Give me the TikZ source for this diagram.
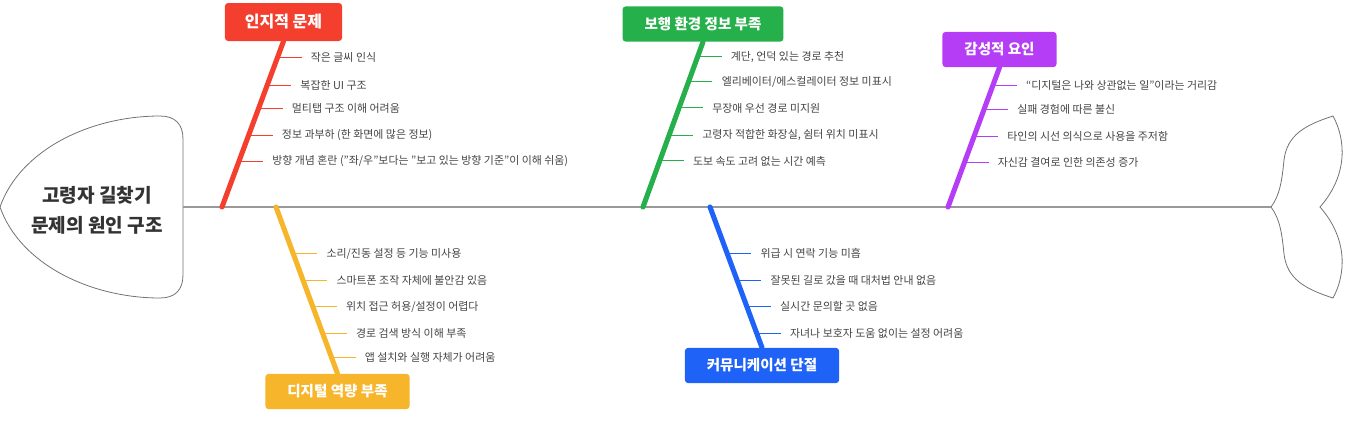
\documentclass[tikz,border=0pt]{standalone}
\usepackage{fontspec}
\setmainfont{Noto Sans CJK KR}
\usetikzlibrary{calc,positioning}
\definecolor{bred}{HTML}{F43F2F}
\definecolor{bgreen}{HTML}{26B04B}
\definecolor{bpurple}{HTML}{B43DF5}
\definecolor{byellow}{HTML}{F6B52A}
\definecolor{bblue}{HTML}{1E62F7}
\definecolor{inktext}{HTML}{444444}
\tikzset{
  outline/.style={draw=black!55, line width=0.6pt, fill=white},
  spine/.style={draw=black!40, line width=1.5pt},
  bone/.style={line width=3.8pt, line cap=round},
  twig/.style={line width=0.75pt},
  cause/.style={rounded corners=2.5pt, text=white, inner xsep=16.5pt, minimum height=26.5pt,
    font=\bfseries\fontsize{10.9}{12}\selectfont},
  lbl/.style={inner sep=0pt, text=inktext, font=\fontsize{8.2}{9}\selectfont},
}
\begin{document}
\begin{tikzpicture}[x=0.75pt,y=-0.75pt]
    \useasboundingbox (0,0) rectangle (1363,422);
    % head and tail
    \draw[outline] (0,207) .. controls (20,150) and (90,116) .. (160,116)
        .. controls (175,116) and (183,124) .. (183,139) -- (183,275)
        .. controls (183,290) and (175,298) .. (160,298)
        .. controls (90,298) and (20,264) .. (0,207) -- cycle;
    \draw[outline] (1271,207) .. controls (1280,195) and (1282,180) .. (1284,160)
        .. controls (1287,135) and (1305,125) .. (1333,116)
        .. controls (1346,140) and (1348,175) .. (1320,207)
        .. controls (1348,239) and (1346,274) .. (1333,298)
        .. controls (1305,289) and (1287,279) .. (1284,254)
        .. controls (1282,234) and (1280,219) .. (1271,207) -- cycle;
    \node[text=black!80, font=\bfseries\fontsize{14.3}{22.5}\selectfont, align=center] (head) at (97,210)
        {고령자 길찾기\\문제의 원인 구조};
    \coordinate (hd) at (183,207);
    \coordinate (tl) at (1271,207);
    \draw[spine] (hd) -- (tl);
    % cause boxes
    \node[cause, fill=bred, minimum height=28.5pt, inner xsep=15pt, font=\bfseries\fontsize{12}{14}\selectfont] (rbox) at (283.5,22) {인지적 문제};
    \node[cause, fill=bgreen] (gbox) at (703,24) {보행 환경 정보 부족};
    \node[cause, fill=bpurple] (pbox) at (999.5,49.5) {감성적 요인};
    \node[cause, fill=byellow] (ybox) at (337.5,391.5) {디지털 역량 부족};
    \node[cause, fill=bblue] (bbox) at (762,365.5) {커뮤니케이션 단절};
    \coordinate (r0) at (222,207);
    \coordinate (g0) at (643,207);
    \coordinate (p0) at (948,207);
    \coordinate (y0) at (276,207);
    \coordinate (b0) at (710,207);
    \draw[bone, bred] (rbox.south) -- (r0);
    \draw[bone, bgreen] (gbox.south) -- (g0);
    \draw[bone, bpurple] (pbox.south) -- (p0);
    \draw[bone, byellow] (y0) -- (ybox.north);
    \draw[bone, bblue] (b0) -- (bbox.north);
    % points on the bones
    \coordinate (r1) at ($(rbox.south)!0.096!(r0)$);
    \coordinate (r2) at ($(rbox.south)!0.265!(r0)$);
    \coordinate (r3) at ($(rbox.south)!0.404!(r0)$);
    \coordinate (r4) at ($(rbox.south)!0.566!(r0)$);
    \coordinate (r5) at ($(rbox.south)!0.723!(r0)$);
    \coordinate (g1) at ($(gbox.south)!0.091!(g0)$);
    \coordinate (g2) at ($(gbox.south)!0.242!(g0)$);
    \coordinate (g3) at ($(gbox.south)!0.400!(g0)$);
    \coordinate (g4) at ($(gbox.south)!0.564!(g0)$);
    \coordinate (g5) at ($(gbox.south)!0.721!(g0)$);
    \coordinate (p1) at ($(pbox.south)!0.129!(p0)$);
    \coordinate (p2) at ($(pbox.south)!0.300!(p0)$);
    \coordinate (p3) at ($(pbox.south)!0.493!(p0)$);
    \coordinate (p4) at ($(pbox.south)!0.679!(p0)$);
    \coordinate (y1) at ($(y0)!0.281!(ybox.north)$);
    \coordinate (y2) at ($(y0)!0.443!(ybox.north)$);
    \coordinate (y3) at ($(y0)!0.599!(ybox.north)$);
    \coordinate (y4) at ($(y0)!0.760!(ybox.north)$);
    \coordinate (y5) at ($(y0)!0.904!(ybox.north)$);
    \coordinate (b1) at ($(b0)!0.333!(bbox.north)$);
    \coordinate (b2) at ($(b0)!0.525!(bbox.north)$);
    \coordinate (b3) at ($(b0)!0.709!(bbox.north)$);
    \coordinate (b4) at ($(b0)!0.901!(bbox.north)$);
    % sub-causes
    \node[lbl, right=24.75pt of r1] (rt1) {작은 글씨 인식};
    \node[lbl, right=24.75pt of r2] (rt2) {복잡한 UI 구조};
    \node[lbl, right=24.75pt of r3] (rt3) {멀티탭 구조 이해 어려움};
    \node[lbl, right=24.75pt of r4] (rt4) {정보 과부하 (한 화면에 많은 정보)};
    \node[lbl, right=24.75pt of r5] (rt5) {방향 개념 혼란 ("좌/우"보다는 "보고 있는 방향 기준"이 이해 쉬움)};
    \node[lbl, right=24.75pt of g1] (gt1) {계단, 언덕 있는 경로 추천};
    \node[lbl, right=24.75pt of g2] (gt2) {엘리베이터/에스컬레이터 정보 미표시};
    \node[lbl, right=24.75pt of g3] (gt3) {무장애 우선 경로 미지원};
    \node[lbl, right=24.75pt of g4] (gt4) {고령자 적합한 화장실, 쉼터 위치 미표시};
    \node[lbl, right=24.75pt of g5] (gt5) {도보 속도 고려 없는 시간 예측};
    \node[lbl, right=24.75pt of p1] (pt1) {“디지털은 나와 상관없는 일”이라는 거리감};
    \node[lbl, right=24.75pt of p2] (pt2) {실패 경험에 따른 불신};
    \node[lbl, right=24.75pt of p3] (pt3) {타인의 시선 의식으로 사용을 주저함};
    \node[lbl, right=24.75pt of p4] (pt4) {자신감 결여로 인한 의존성 증가};
    \node[lbl, right=24.75pt of y1] (yt1) {소리/진동 설정 등 기능 미사용};
    \node[lbl, right=24.75pt of y2] (yt2) {스마트폰 조작 자체에 불안감 있음};
    \node[lbl, right=24.75pt of y3] (yt3) {위치 접근 허용/설정이 어렵다};
    \node[lbl, right=24.75pt of y4] (yt4) {경로 검색 방식 이해 부족};
    \node[lbl, right=24.75pt of y5] (yt5) {앱 설치와 실행 자체가 어려움};
    \node[lbl, right=24.75pt of b1] (bt1) {위급 시 연락 기능 미흡};
    \node[lbl, right=24.75pt of b2] (bt2) {잘못된 길로 갔을 때 대처법 안내 없음};
    \node[lbl, right=24.75pt of b3] (bt3) {실시간 문의할 곳 없음};
    \node[lbl, right=24.75pt of b4] (bt4) {자녀나 보호자 도움 없이는 설정 어려움};
    \draw[twig, bred] (r1) -- ([xshift=-6.75pt]rt1.west);
    \draw[twig, bred] (r2) -- ([xshift=-6.75pt]rt2.west);
    \draw[twig, bred] (r3) -- ([xshift=-6.75pt]rt3.west);
    \draw[twig, bred] (r4) -- ([xshift=-6.75pt]rt4.west);
    \draw[twig, bred] (r5) -- ([xshift=-6.75pt]rt5.west);
    \draw[twig, bgreen] (g1) -- ([xshift=-6.75pt]gt1.west);
    \draw[twig, bgreen] (g2) -- ([xshift=-6.75pt]gt2.west);
    \draw[twig, bgreen] (g3) -- ([xshift=-6.75pt]gt3.west);
    \draw[twig, bgreen] (g4) -- ([xshift=-6.75pt]gt4.west);
    \draw[twig, bgreen] (g5) -- ([xshift=-6.75pt]gt5.west);
    \draw[twig, bpurple] (p1) -- ([xshift=-6.75pt]pt1.west);
    \draw[twig, bpurple] (p2) -- ([xshift=-6.75pt]pt2.west);
    \draw[twig, bpurple] (p3) -- ([xshift=-6.75pt]pt3.west);
    \draw[twig, bpurple] (p4) -- ([xshift=-6.75pt]pt4.west);
    \draw[twig, byellow] (y1) -- ([xshift=-6.75pt]yt1.west);
    \draw[twig, byellow] (y2) -- ([xshift=-6.75pt]yt2.west);
    \draw[twig, byellow] (y3) -- ([xshift=-6.75pt]yt3.west);
    \draw[twig, byellow] (y4) -- ([xshift=-6.75pt]yt4.west);
    \draw[twig, byellow] (y5) -- ([xshift=-6.75pt]yt5.west);
    \draw[twig, bblue] (b1) -- ([xshift=-6.75pt]bt1.west);
    \draw[twig, bblue] (b2) -- ([xshift=-6.75pt]bt2.west);
    \draw[twig, bblue] (b3) -- ([xshift=-6.75pt]bt3.west);
    \draw[twig, bblue] (b4) -- ([xshift=-6.75pt]bt4.west);
\end{tikzpicture}
\end{document}
